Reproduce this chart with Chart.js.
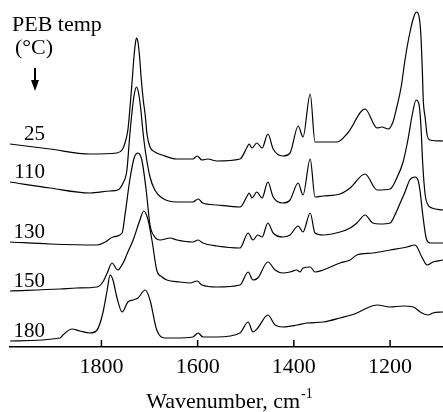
<!DOCTYPE html>
<html>
<head>
<meta charset="utf-8">
<script src="https://cdn.jsdelivr.net/npm/chart.js@4.4.1/dist/chart.umd.min.js"></script>
<style>
  html, body { margin: 0; padding: 0; background: #fff; }
  #wrap { width: 443px; height: 412px; }
</style>
</head>
<body>
<div id="wrap"><canvas id="irChart" width="443" height="412"></canvas></div>
<script>
// PEB temperatures (°C), one spectrum each, top to bottom
const pebTemps = ['25', '110', '130', '150', '180'];
const tickValues = [1800, 1600, 1400, 1200];

// [wavenumber, stacked absorbance]
const spec25 = [
  [1990, 203], [1907, 198], [1824, 193], [1768, 194], [1757, 197], [1751, 204], [1745, 217],
  [1741, 237], [1736, 267], [1732, 292], [1729, 305], [1727, 309], [1724, 305], [1721, 292],
  [1717, 267], [1713, 247], [1709, 232], [1705, 212], [1699, 200], [1689, 195], [1674, 192],
  [1643, 188], [1610, 188], [1601, 191], [1591, 187], [1579, 188], [1560, 186], [1512, 188],
  [1497, 200], [1493, 203], [1487, 199], [1477, 204], [1466, 199], [1454, 213], [1443, 198],
  [1423, 191], [1408, 194], [1391, 221], [1381, 210], [1366, 253], [1356, 205], [1346, 205],
  [1310, 205], [1288, 214], [1252, 238], [1227, 219], [1217, 220], [1204, 218], [1194, 225],
  [1186, 240], [1177, 260], [1169, 287], [1159, 314], [1150, 331], [1145, 335], [1140, 331],
  [1136, 312], [1133, 277], [1131, 247], [1127, 229], [1123, 212], [1117, 207], [1090, 206]
];
const spec110 = [
  [1990, 165], [1907, 159], [1824, 154], [1782, 156], [1766, 157], [1755, 164], [1747, 177],
  [1741, 212], [1736, 237], [1732, 252], [1727, 260], [1722, 252], [1718, 237], [1714, 217],
  [1709, 197], [1699, 170], [1689, 157], [1674, 149], [1643, 145], [1610, 145], [1599, 148],
  [1589, 144], [1560, 142], [1512, 140], [1497, 151], [1493, 154], [1487, 149], [1477, 155],
  [1466, 149], [1454, 165], [1443, 150], [1423, 144], [1408, 147], [1391, 164], [1381, 152],
  [1366, 188], [1356, 150], [1339, 151], [1304, 153], [1283, 159], [1252, 173], [1227, 157],
  [1200, 158], [1186, 169], [1173, 185], [1163, 207], [1154, 232], [1146, 247], [1140, 243],
  [1136, 222], [1132, 182], [1127, 152], [1121, 142], [1113, 139], [1090, 137]
];
const spec130 = [
  [1990, 105], [1907, 103], [1809, 102], [1792, 105], [1776, 110], [1757, 114], [1751, 132],
  [1741, 167], [1732, 189], [1724, 194], [1716, 187], [1707, 157], [1699, 122], [1689, 110],
  [1678, 107], [1657, 109], [1643, 107], [1610, 105], [1599, 107], [1589, 104], [1560, 101],
  [1512, 99], [1495, 114], [1485, 107], [1475, 112], [1466, 110], [1454, 124], [1443, 114],
  [1423, 110], [1408, 112], [1391, 121], [1381, 115], [1366, 134], [1356, 114], [1339, 112],
  [1304, 115], [1283, 119], [1269, 124], [1252, 132], [1236, 124], [1221, 123], [1200, 124],
  [1190, 132], [1179, 144], [1169, 155], [1159, 167], [1148, 170], [1142, 167], [1138, 157],
  [1132, 132], [1125, 109], [1117, 104], [1090, 104]
];
const spec150 = [
  [1990, 56], [1886, 58], [1851, 59], [1809, 60], [1797, 65], [1788, 74], [1778, 84],
  [1766, 77], [1755, 84], [1745, 95], [1734, 107], [1720, 127], [1712, 136], [1703, 127],
  [1695, 107], [1685, 77], [1674, 70], [1664, 67], [1637, 65], [1616, 64], [1601, 66],
  [1591, 62], [1560, 60], [1512, 62], [1495, 75], [1485, 67], [1475, 69], [1454, 85],
  [1439, 77], [1423, 74], [1408, 75], [1394, 77], [1387, 75], [1381, 79], [1366, 80],
  [1356, 75], [1339, 77], [1304, 84], [1283, 87], [1269, 92], [1236, 94], [1200, 97],
  [1165, 100], [1148, 102], [1134, 90], [1123, 82], [1111, 85], [1090, 87]
];
const spec180 = [
  [1990, 6], [1886, 9], [1880, 12], [1861, 18], [1845, 16], [1824, 14], [1809, 17],
  [1797, 34], [1788, 57], [1782, 72], [1776, 67], [1768, 50], [1757, 35], [1745, 45],
  [1734, 47], [1724, 49], [1709, 57], [1699, 47], [1685, 17], [1668, 9], [1647, 9],
  [1610, 10], [1599, 14], [1589, 10], [1560, 10], [1512, 14], [1495, 25], [1485, 15],
  [1475, 19], [1454, 32], [1439, 22], [1423, 20], [1393, 22], [1373, 24], [1339, 25],
  [1304, 29], [1269, 34], [1248, 39], [1227, 42], [1200, 40], [1173, 41], [1152, 40],
  [1134, 34], [1121, 32], [1111, 34], [1090, 35]
];
const spectra = [spec25, spec110, spec130, spec150, spec180];

const SERIF = '"Liberation Serif", "Times New Roman", serif';

/* annotations: header, arrow, temperature labels, inward tick marks, axis title */
const annotations = {
  id: 'annotations',
  afterDraw(chart) {
    const { ctx, chartArea, scales: { x, y } } = chart;
    ctx.save();
    ctx.fillStyle = '#000';
    ctx.strokeStyle = '#000';
    ctx.textBaseline = 'alphabetic';

    ctx.font = '22px ' + SERIF;
    ctx.textAlign = 'left';
    ctx.fillText('PEB temp', 12, 31);
    ctx.fillText('(°C)', 15, 54);

    // down arrow
    ctx.lineWidth = 2;
    ctx.beginPath();
    ctx.moveTo(35, 68);
    ctx.lineTo(35, 83);
    ctx.stroke();
    ctx.beginPath();
    ctx.moveTo(31, 80);
    ctx.lineTo(39, 80);
    ctx.lineTo(35, 91);
    ctx.closePath();
    ctx.fill();

    // temperature labels sit just above the start of each trace
    ctx.font = '21px ' + SERIF;
    ctx.textAlign = 'right';
    spectra.forEach((s, i) => {
      const py = y.getPixelForValue(s[0][1]);
      ctx.fillText(pebTemps[i], 45, py - 4);
    });

    // tick marks pointing up into the plot
    ctx.lineWidth = 1.5;
    tickValues.forEach(v => {
      const px = x.getPixelForValue(v);
      ctx.beginPath();
      ctx.moveTo(px, chartArea.bottom);
      ctx.lineTo(px, chartArea.bottom - 7);
      ctx.stroke();
    });

    // axis title with superscript
    const main = 'Wavenumber, cm';
    const sup = '-1';
    ctx.font = '22px ' + SERIF;
    const wMain = ctx.measureText(main).width;
    ctx.font = '14px ' + SERIF;
    const wSup = ctx.measureText(sup).width;
    const left = 229 - (wMain + wSup) / 2;
    ctx.textAlign = 'left';
    ctx.font = '22px ' + SERIF;
    ctx.fillText(main, left, 408);
    ctx.font = '14px ' + SERIF;
    ctx.fillText(sup, left + wMain + 1, 398);

    ctx.restore();
  }
};

const ctxIr = document.getElementById('irChart');

new Chart(ctxIr, {
  type: 'line',
  data: {
    datasets: spectra.map((s, i) => ({
      label: pebTemps[i],
      data: s.map(p => ({ x: p[0], y: p[1] })),
      borderColor: '#000',
      borderWidth: 1.2,
      pointRadius: 0,
      fill: false,
      cubicInterpolationMode: 'monotone'
    }))
  },
  options: {
    responsive: false,
    animation: false,
    devicePixelRatio: 1,
    layout: { padding: { left: 10, right: 0, top: 0, bottom: 0 } },
    plugins: {
      legend: { display: false },
      tooltip: { enabled: false }
    },
    scales: {
      x: {
        type: 'linear',
        reverse: true,
        min: 1090,
        max: 1990,
        afterBuildTicks: scale => {
          scale.ticks = tickValues.map(v => ({ value: v }));
        },
        afterFit: scale => {
          scale.height = 65;
        },
        grid: { drawOnChartArea: false, drawTicks: false },
        border: { display: true, color: '#000', width: 1.5 },
        ticks: {
          color: '#000',
          padding: 7,
          maxRotation: 0,
          callback: v => String(v),
          font: { family: SERIF, size: 22 }
        }
      },
      y: { display: false, min: 0, max: 347 }
    }
  },
  plugins: [annotations]
});
</script>
</body>
</html>
